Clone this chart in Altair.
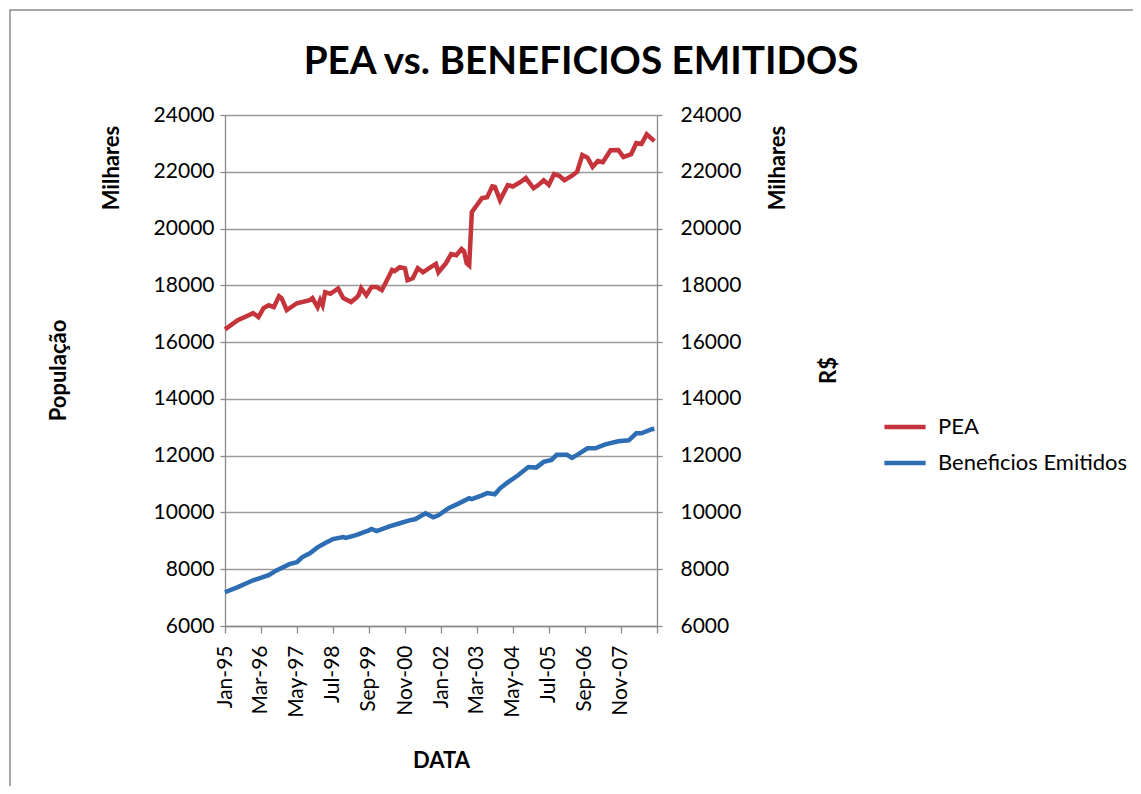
import altair as alt
import pandas as pd

# ---------------- data ----------------
pea_dates = [
    "1995-01", "1995-06", "1995-12", "1996-02", "1996-04", "1996-06", "1996-08", "1996-10",
    "1996-11", "1997-01", "1997-05", "1997-10", "1997-11", "1998-01", "1998-02", "1998-03",
    "1998-04", "1998-06", "1998-09", "1998-11", "1999-02", "1999-04", "1999-05", "1999-06",
    "1999-08", "1999-10", "1999-12", "2000-02", "2000-04", "2000-06", "2000-07", "2000-09",
    "2000-11", "2000-12", "2001-02", "2001-04", "2001-06", "2001-09", "2001-11", "2001-12",
    "2002-03", "2002-05", "2002-07", "2002-09", "2002-10", "2002-11", "2002-12", "2003-01",
    "2003-03", "2003-05", "2003-07", "2003-09", "2003-10", "2003-12", "2004-03", "2004-05",
    "2004-08", "2004-10", "2005-01", "2005-03", "2005-05", "2005-07", "2005-09", "2005-11",
    "2006-01", "2006-04", "2006-06", "2006-08", "2006-10", "2006-12", "2007-02", "2007-04",
    "2007-07", "2007-10", "2007-12", "2008-03", "2008-05", "2008-07", "2008-09", "2008-12",
]
pea_values = [
    16450, 16770, 17020, 16880, 17200, 17300, 17230, 17620,
    17550, 17130, 17370, 17480, 17550, 17230, 17480, 17300,
    17760, 17700, 17890, 17550, 17410, 17550, 17650, 17900,
    17650, 17940, 17940, 17830, 18180, 18540, 18500, 18640,
    18600, 18180, 18250, 18600, 18460, 18640, 18750, 18460,
    18780, 19100, 19060, 19280, 19200, 18780, 18700, 20580,
    20820, 21070, 21100, 21490, 21470, 21000, 21530, 21480,
    21640, 21780, 21420, 21540, 21700, 21540, 21920, 21860,
    21700, 21860, 22000, 22590, 22500, 22170, 22380, 22340,
    22760, 22770, 22520, 22620, 23010, 22980, 23320, 23080,
]

ben_dates = [
    "1995-01", "1995-06", "1995-12", "1996-06", "1996-09", "1997-02", "1997-05", "1997-07",
    "1997-10", "1998-01", "1998-04", "1998-07", "1998-11", "1998-12", "1999-04", "1999-09",
    "1999-10", "1999-12", "2000-05", "2000-09", "2001-01", "2001-03", "2001-07", "2001-10",
    "2001-12", "2002-04", "2002-08", "2002-12", "2003-01", "2003-05", "2003-07", "2003-10",
    "2003-12", "2004-03", "2004-07", "2004-11", "2005-02", "2005-05", "2005-08", "2005-10",
    "2006-02", "2006-04", "2006-06", "2006-10", "2007-01", "2007-05", "2007-10", "2008-02",
    "2008-05", "2008-07", "2008-11", "2008-12",
]
ben_values = [
    7190, 7370, 7610, 7790, 7960, 8180, 8250, 8420,
    8560, 8770, 8920, 9060, 9130, 9100, 9200, 9370,
    9420, 9340, 9510, 9620, 9730, 9760, 9970, 9830,
    9900, 10150, 10320, 10500, 10470, 10600, 10680, 10640,
    10850, 11060, 11310, 11600, 11580, 11780, 11850, 12030,
    12030, 11920, 12030, 12260, 12260, 12400, 12510, 12540,
    12790, 12790, 12930, 12950,
]

series_names = ["PEA", "Beneficios Emitidos"]
series_colors = ["#c4343a", "#2c6db3"]

x_tick_months = [
    "1995-01", "1996-03", "1997-05", "1998-07", "1999-09", "2000-11", "2002-01",
    "2003-03", "2004-05", "2005-07", "2006-09", "2007-11", "2009-01",
]
x_domain = ["1995-01", "2009-01"]
y_ticks = [6000, 8000, 10000, 12000, 14000, 16000, 18000, 20000, 22000, 24000]
y_domain = [6000, 24000]

title_text = "PEA vs. BENEFICIOS EMITIDOS"
x_title = "DATA"
y_left_title = "População"
y_right_title = "R$"
unit_label = "Milhares"

# ---------------- chart ----------------
FONT = "Lato"
W, H = 432, 511
GRID = "#9a9a9a"
AXIS = "#8a8a8a"


def dt(s):
    y, m = s.split("-")
    return alt.DateTime(year=int(y), month=int(m), date=1, utc=True)


pea_df = pd.DataFrame({"date": [d + "-01" for d in pea_dates], "value": pea_values,
                       "serie": series_names[0]})
ben_df = pd.DataFrame({"date": [d + "-01" for d in ben_dates], "value": ben_values,
                       "serie": series_names[1]})

x_enc = alt.X(
    "date:T",
    scale=alt.Scale(type="utc", domain=[dt(x_domain[0]), dt(x_domain[1])]),
    axis=alt.Axis(
        values=[dt(m) for m in x_tick_months],
        labelExpr="datum.value >= time(datetime(2009,0,1)) - 86400000*20 ? '' : utcFormat(datum.value, '%b-%y')",
        labelAngle=270, labelAlign="right", labelBaseline="middle",
        labelFont=FONT, labelFontSize=21, labelColor="black", labelPadding=12,
        labelOverlap=False, labelFlush=False,
        tickSize=7, tickColor=AXIS, tickWidth=1.3, domainColor=AXIS, domainWidth=1.3,
        grid=False,
        title=x_title, titleFont=FONT, titleFontSize=22, titleFontWeight="bold",
        titleColor="black", titleY=134, titleBaseline="middle",
    ),
)

color_enc = alt.Color(
    "serie:N",
    scale=alt.Scale(domain=series_names, range=series_colors),
    legend=alt.Legend(
        title=None, orient="none", legendX=657, legendY=289, padding=0,
        symbolType="stroke", symbolSize=1700, symbolStrokeWidth=4.5,
        labelFont=FONT, labelFontSize=22, labelColor="black", labelOffset=10,
        labelLimit=400, rowPadding=2,
    ),
)

left_axis = alt.Axis(
    orient="left", values=y_ticks, format="d",
    grid=True, gridColor=GRID, gridWidth=1.3,
    domainColor=AXIS, domainWidth=1.3, tickColor=AXIS, tickWidth=1.3, tickSize=5,
    labelFont=FONT, labelFontSize=21, labelColor="black", labelPadding=6,
    title=y_left_title, titleFont=FONT, titleFontSize=22, titleFontWeight="bold",
    titleColor="black", titleX=-167, titleY=255, titleAngle=270,
    titleAlign="center", titleBaseline="middle",
)
right_axis = alt.Axis(
    orient="right", values=y_ticks, format="d",
    grid=False,
    domainColor=AXIS, domainWidth=1.3, tickColor=AXIS, tickWidth=1.3, tickSize=5,
    labelFont=FONT, labelFontSize=21, labelColor="black", labelPadding=18,
    title=y_right_title, titleFont=FONT, titleFontSize=22, titleFontWeight="bold",
    titleColor="black", titleX=171, titleY=255, titleAngle=270,
    titleAlign="center", titleBaseline="middle",
)

frame = alt.Chart(pd.DataFrame({"a": [0]})).mark_rect(
    fillOpacity=0, stroke="#8c8c8c", strokeWidth=1.5
).encode(
    x=alt.value(-215), x2=alt.value(930), y=alt.value(-105), y2=alt.value(690)
)

pea_line = alt.Chart(pea_df).mark_line(strokeWidth=4.5).encode(
    x=x_enc,
    y=alt.Y("value:Q", scale=alt.Scale(domain=y_domain, nice=False), axis=left_axis),
    color=color_enc,
)
ben_line = alt.Chart(ben_df).mark_line(strokeWidth=4.5).encode(
    x=x_enc,
    y=alt.Y("value:Q", scale=alt.Scale(domain=y_domain, nice=False), axis=right_axis),
    color=color_enc,
)

unit_df = pd.DataFrame({"t": [unit_label]})
unit_left = alt.Chart(unit_df).mark_text(
    angle=270, font=FONT, fontSize=22, fontWeight="bold", color="black",
    align="center", baseline="middle",
).encode(x=alt.value(-113), y=alt.value(53), text="t:N")
unit_right = alt.Chart(unit_df).mark_text(
    angle=270, font=FONT, fontSize=22, fontWeight="bold", color="black",
    align="center", baseline="middle",
).encode(x=alt.value(553), y=alt.value(53), text="t:N")

title_df = pd.DataFrame({"t": [title_text]})
title_mark = alt.Chart(title_df).mark_text(
    font=FONT, fontSize=38.7, fontWeight="bold", color="black",
    align="center", baseline="middle",
).encode(x=alt.value(356), y=alt.value(-53), text="t:N")

chart = alt.layer(frame, pea_line, ben_line, unit_left, unit_right, title_mark).resolve_scale(
    y="independent"
).properties(
    width=W, height=H,
    autosize=alt.AutoSizeParams(type="none"),
    padding={"left": 217, "top": 107, "right": 476, "bottom": 160},
).configure_view(strokeWidth=0).configure(background="white")

chart.save("out.html", embed_options={"renderer": "svg", "actions": False})
